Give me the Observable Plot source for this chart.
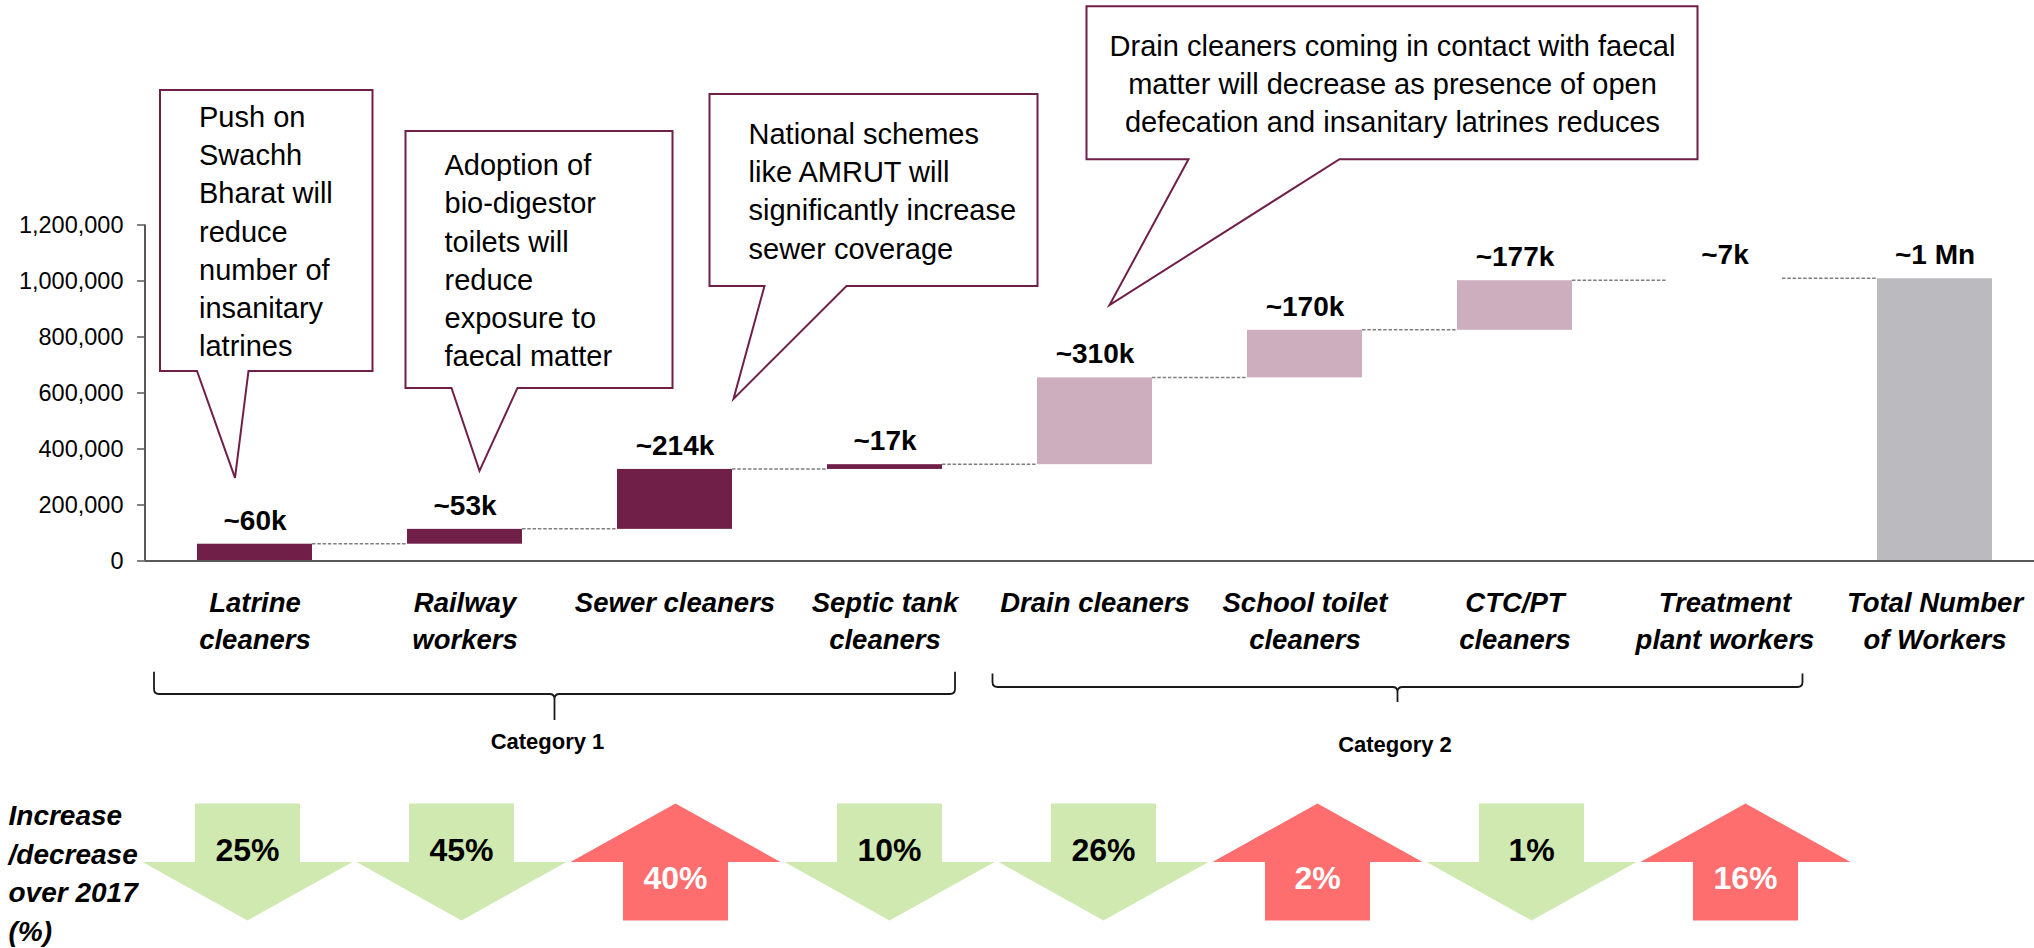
<!DOCTYPE html>
<html>
<head>
<meta charset="utf-8">
<script src="https://cdn.jsdelivr.net/npm/d3@7"></script>
<script src="https://cdn.jsdelivr.net/npm/@observablehq/plot@0.6"></script>
<style>
  html, body { margin: 0; padding: 0; background: #fff; overflow: hidden; }
  #chart { width: 2034px; height: 948px; line-height: 0; }
  #chart svg { display: block; }
  g[aria-label="x-axis tick label"] text { font-weight: bold; font-style: italic; }
</style>
</head>
<body>
<div id="chart"></div>
<script>
// ---------------- DATA ----------------
const categories = [
  "Latrine cleaners", "Railway workers", "Sewer cleaners", "Septic tank cleaners",
  "Drain cleaners", "School toilet cleaners", "CTC/PT cleaners", "Treatment plant workers",
  "Total Number of Workers"
];
const axisLabels = [
  "Latrine\ncleaners", "Railway\nworkers", "Sewer cleaners", "Septic tank\ncleaners",
  "Drain cleaners", "School toilet\ncleaners", "CTC/PT\ncleaners", "Treatment\nplant workers",
  "Total Number\nof Workers"
];
const increments = [60000, 53000, 214000, 17000, 310000, 170000, 177000, 7000];
const totalWorkers = 1008000;
const valueLabels = ["~60k", "~53k", "~214k", "~17k", "~310k", "~170k", "~177k", "~7k", "~1 Mn"];
const categoryGroup = [
  "Category 1", "Category 1", "Category 1", "Category 1",
  "Category 2", "Category 2", "Category 2", "Category 2", "Total"
];
const groupNames = ["Category 1", "Category 2"];
const yTicks = [0, 200000, 400000, 600000, 800000, 1000000, 1200000];

const changePercent = [25, 45, 40, 10, 26, 2, 1, 16];
const changeDirection = ["down", "down", "up", "down", "down", "up", "down", "up"];
const changeTitle = "Increase\n/decrease\nover 2017\n(%)";

const calloutTexts = [
  "Push on\nSwachh\nBharat will\nreduce\nnumber of\ninsanitary\nlatrines",
  "Adoption of\nbio-digestor\ntoilets will\nreduce\nexposure to\nfaecal matter",
  "National schemes\nlike AMRUT will\nsignificantly increase\nsewer coverage",
  "Drain cleaners coming in contact with faecal\nmatter will decrease as presence of open\ndefecation and insanitary latrines reduces"
];
const calloutTargets = ["Latrine cleaners", "Railway workers", "Sewer cleaners", "Drain cleaners"];
const calloutTipValues = [295000, 320000, 577000, 912000];

// ---------------- STYLE / LAYOUT ----------------
const FONT = '"Liberation Sans", Arial, "DejaVu Sans", sans-serif';
const MAROON = "#701f48";
const groupFill = {"Category 1": MAROON, "Category 2": "#cdaebe", "Total": "#bbbabe"};
const hiddenFill = {"Treatment plant workers": "#ffffff"};
const GREEN = "#cfe9b1", RED = "#ff6e6e";

const calloutLayout = [
  {tipDx: -19.5, left: -75, right: 137.5, top: -388, bottom: -107, base: [-38, 13.5], align: "start"},
  {tipDx: 15, left: -74, right: 193, top: -340, bottom: -83, base: [-28, 38], align: "start"},
  {tipDx: 59, left: -24, right: 304, top: -305, bottom: -113, base: [31, 113], align: "start"},
  {tipDx: 15, left: -23, right: 588, top: -299, bottom: -146, base: [79, 230], align: "middle"}
];
const bracketLayout = [
  {leftPad: 100.5, rightPad: 70.5, top: 111.2, line: 133.5, stub: 159.5, label: 188, labelDx: -7},
  {leftPad: 102, rightPad: 78, top: 113, line: 126.5, stub: 141.5, label: 191.2, labelDx: -2.5}
];

// ---------------- DERIVED TABLES ----------------
let run = 0;
const steps = categories.map((name, i) => {
  if (i < increments.length) {
    const start = run;
    run += increments[i];
    return {name, start, end: run, label: valueLabels[i], group: categoryGroup[i]};
  }
  return {name, start: 0, end: totalWorkers, label: valueLabels[i], group: categoryGroup[i]};
});
const callouts = calloutTexts.map((text, i) => ({text, target: calloutTargets[i], value: calloutTipValues[i], layout: calloutLayout[i]}));
const groups = groupNames.map((g, i) => {
  const members = categories.filter((c, j) => categoryGroup[j] === g);
  return {name: g, first: members[0], last: members[members.length - 1], layout: bracketLayout[i]};
});
const changes = changePercent.map((pct, i) => ({name: categories[i], pct, dir: changeDirection[i]}));

// helper for function marks (robust to signature)
function fnMark(draw) {
  return function () {
    const args = Array.from(arguments);
    const scales = args.find(a => a && typeof a.x === "function" && typeof a.y === "function");
    const dims = args.find(a => a && typeof a.width === "number" && "marginLeft" in a);
    return draw(scales, dims);
  };
}

const calloutShapes = fnMark(({x, y}) => {
  const bw = x.bandwidth ? x.bandwidth() : 0;
  const g = d3.create("svg:g").attr("fill", "#fff").attr("stroke", MAROON).attr("stroke-width", 2).attr("stroke-linejoin", "miter");
  for (const c of callouts) {
    const L = c.layout;
    const tx = x(c.target) + bw / 2 + L.tipDx, ty = y(c.value);
    const l = tx + L.left, r = tx + L.right, t = ty + L.top, b = ty + L.bottom;
    const b1 = tx + L.base[0], b2 = tx + L.base[1];
    g.append("path").attr("d", `M${l},${t}H${r}V${b}H${b2}L${tx},${ty}L${b1},${b}H${l}Z`);
  }
  return g.node();
});

const calloutTextMarks = callouts.map(c => {
  const L = c.layout;
  const dx = L.tipDx + (L.align === "start" ? L.left + 38.5 : (L.left + L.right) / 2);
  const dy = (L.top + L.bottom) / 2 - 1.5;
  return Plot.text([c], {
    x: "target", y: "value", text: "text", dx, dy,
    textAnchor: L.align, lineAnchor: "middle", lineHeight: 1.32,
    fontSize: 29, fill: "#000"
  });
});

const connectors = fnMark(({x, y}) => {
  const bw = x.bandwidth();
  const g = d3.create("svg:g").attr("stroke", "#7f7f7f").attr("stroke-width", 1.5)
    .attr("stroke-dasharray", "3.5,1.8").attr("fill", "none");
  for (let i = 0; i < steps.length - 1; i++) {
    const yy = y(steps[i].end);
    g.append("line").attr("x1", x(steps[i].name) + bw).attr("x2", x(steps[i + 1].name))
      .attr("y1", yy).attr("y2", yy);
  }
  return g.node();
});

const yAxisLine = fnMark(({y}, dims) => {
  const g = d3.create("svg:g");
  g.append("line").attr("x1", dims.marginLeft).attr("x2", dims.marginLeft)
    .attr("y1", y(yTicks[yTicks.length - 1])).attr("y2", y(0))
    .attr("stroke", "#595959").attr("stroke-width", 2);
  return g.node();
});

const brackets = fnMark(({x, y}) => {
  const bw = x.bandwidth();
  const y0 = y(0);
  const g = d3.create("svg:g");
  for (const grp of groups) {
    const B = grp.layout;
    const L = x(grp.first) + bw / 2 - B.leftPad;
    const R = x(grp.last) + bw / 2 + B.rightPad;
    const M = (L + R) / 2;
    const top = y0 + B.top, ln = y0 + B.line, stub = y0 + B.stub;
    const rr = 5;
    g.append("path")
      .attr("fill", "none").attr("stroke", "#1a1a1a").attr("stroke-width", 1.8)
      .attr("d", `M${L},${top}V${ln - rr}Q${L},${ln} ${L + rr},${ln}H${M - rr}Q${M},${ln} ${M},${ln + rr}V${stub}` +
                 `M${M},${ln + rr}Q${M},${ln} ${M + rr},${ln}H${R - rr}Q${R},${ln} ${R},${ln - rr}V${top}`);
    g.append("text")
      .attr("x", M + B.labelDx).attr("y", y0 + B.label)
      .attr("text-anchor", "middle").attr("font-size", 22).attr("font-weight", "bold")
      .attr("fill", "#000").text(grp.name);
  }
  return g.node();
});

// ---------------- MAIN WATERFALL ----------------
const plot1 = Plot.plot({
  width: 2034, height: 790,
  marginLeft: 145, marginRight: 0, marginTop: 224.5, marginBottom: 229.5,
  style: {fontFamily: FONT, fontSize: "24px", color: "#000", background: "#fff", overflow: "visible"},
  x: {type: "band", domain: categories, range: [97.35, 2090.9], padding: 0.4523, axis: null},
  y: {domain: [0, 1200000], range: [560.5, 224.5], axis: null},
  color: {type: "identity"},
  marks: [
    calloutShapes,
    ...calloutTextMarks,
    Plot.barY(steps, {
      x: "name", y1: "start", y2: "end",
      fill: d => hiddenFill[d.name] || groupFill[d.group]
    }),
    connectors,
    Plot.ruleY([0], {stroke: "#595959", strokeWidth: 2}),
    yAxisLine,
    Plot.axisY({
      ticks: yTicks, tickFormat: d3.format(","), tickSize: 8, tickPadding: 14,
      fontSize: 23.5, stroke: "#595959", strokeWidth: 1.5
    }),
    Plot.axisX({
      tickSize: 0, tickPadding: 25.2,
      tickFormat: d => axisLabels[categories.indexOf(d)],
      fontSize: 27.5, fontWeight: "bold", fontStyle: "italic", lineHeight: 1.345
    }),
    Plot.text(steps, {
      x: "name", y: "end", text: "label", dy: -14.5, lineAnchor: "bottom",
      fontSize: 28, fontWeight: "bold", fill: "#000"
    }),
    brackets
  ]
});

// ---------------- CHANGE ARROWS ROW ----------------
const arrowSymbol = (dir) => ({
  draw(ctx, size) {
    const r = Math.sqrt(size / Math.PI);
    const hw = r, sw = r * 0.5, h = r * 0.557;
    if (dir === "down") {
      ctx.moveTo(-sw, -h); ctx.lineTo(sw, -h); ctx.lineTo(sw, 0); ctx.lineTo(hw, 0);
      ctx.lineTo(0, h); ctx.lineTo(-hw, 0); ctx.lineTo(-sw, 0); ctx.closePath();
    } else {
      ctx.moveTo(0, -h); ctx.lineTo(hw, 0); ctx.lineTo(sw, 0); ctx.lineTo(sw, h);
      ctx.lineTo(-sw, h); ctx.lineTo(-sw, 0); ctx.lineTo(-hw, 0); ctx.closePath();
    }
  }
});
const downs = changes.filter(d => d.dir === "down");
const ups = changes.filter(d => d.dir === "up");

const plot2 = Plot.plot({
  width: 2034, height: 158,
  marginLeft: 0, marginRight: 0, marginTop: 0, marginBottom: 15,
  style: {fontFamily: FONT, fontSize: "28px", color: "#000", background: "#fff", overflow: "visible"},
  x: {type: "point", domain: changes.map(d => d.name), range: [246.7, 1745.3], padding: 0, axis: null},
  marks: [
    Plot.dot(downs, {x: "name", r: 105, symbol: arrowSymbol("down"), fill: GREEN, stroke: "none"}),
    Plot.dot(ups, {x: "name", r: 105, symbol: arrowSymbol("up"), fill: RED, stroke: "none"}),
    Plot.text(downs, {x: "name", text: d => d.pct + "%", dy: -1.5, lineAnchor: "bottom", fontSize: 32, fontWeight: "bold", fill: "#000"}),
    Plot.text(ups, {x: "name", text: d => d.pct + "%", dy: 26.5, lineAnchor: "bottom", fontSize: 32, fontWeight: "bold", fill: "#fff"}),
    Plot.text([changeTitle], {
      text: d => d, frameAnchor: "left", dx: 8, dy: 8.7, textAnchor: "start",
      lineAnchor: "middle", lineHeight: 1.37, fontSize: 28, fontWeight: "bold", fontStyle: "italic", fill: "#000"
    })
  ]
});

const chart = document.getElementById("chart");
chart.appendChild(plot1);
chart.appendChild(plot2);
</script>
</body>
</html>
